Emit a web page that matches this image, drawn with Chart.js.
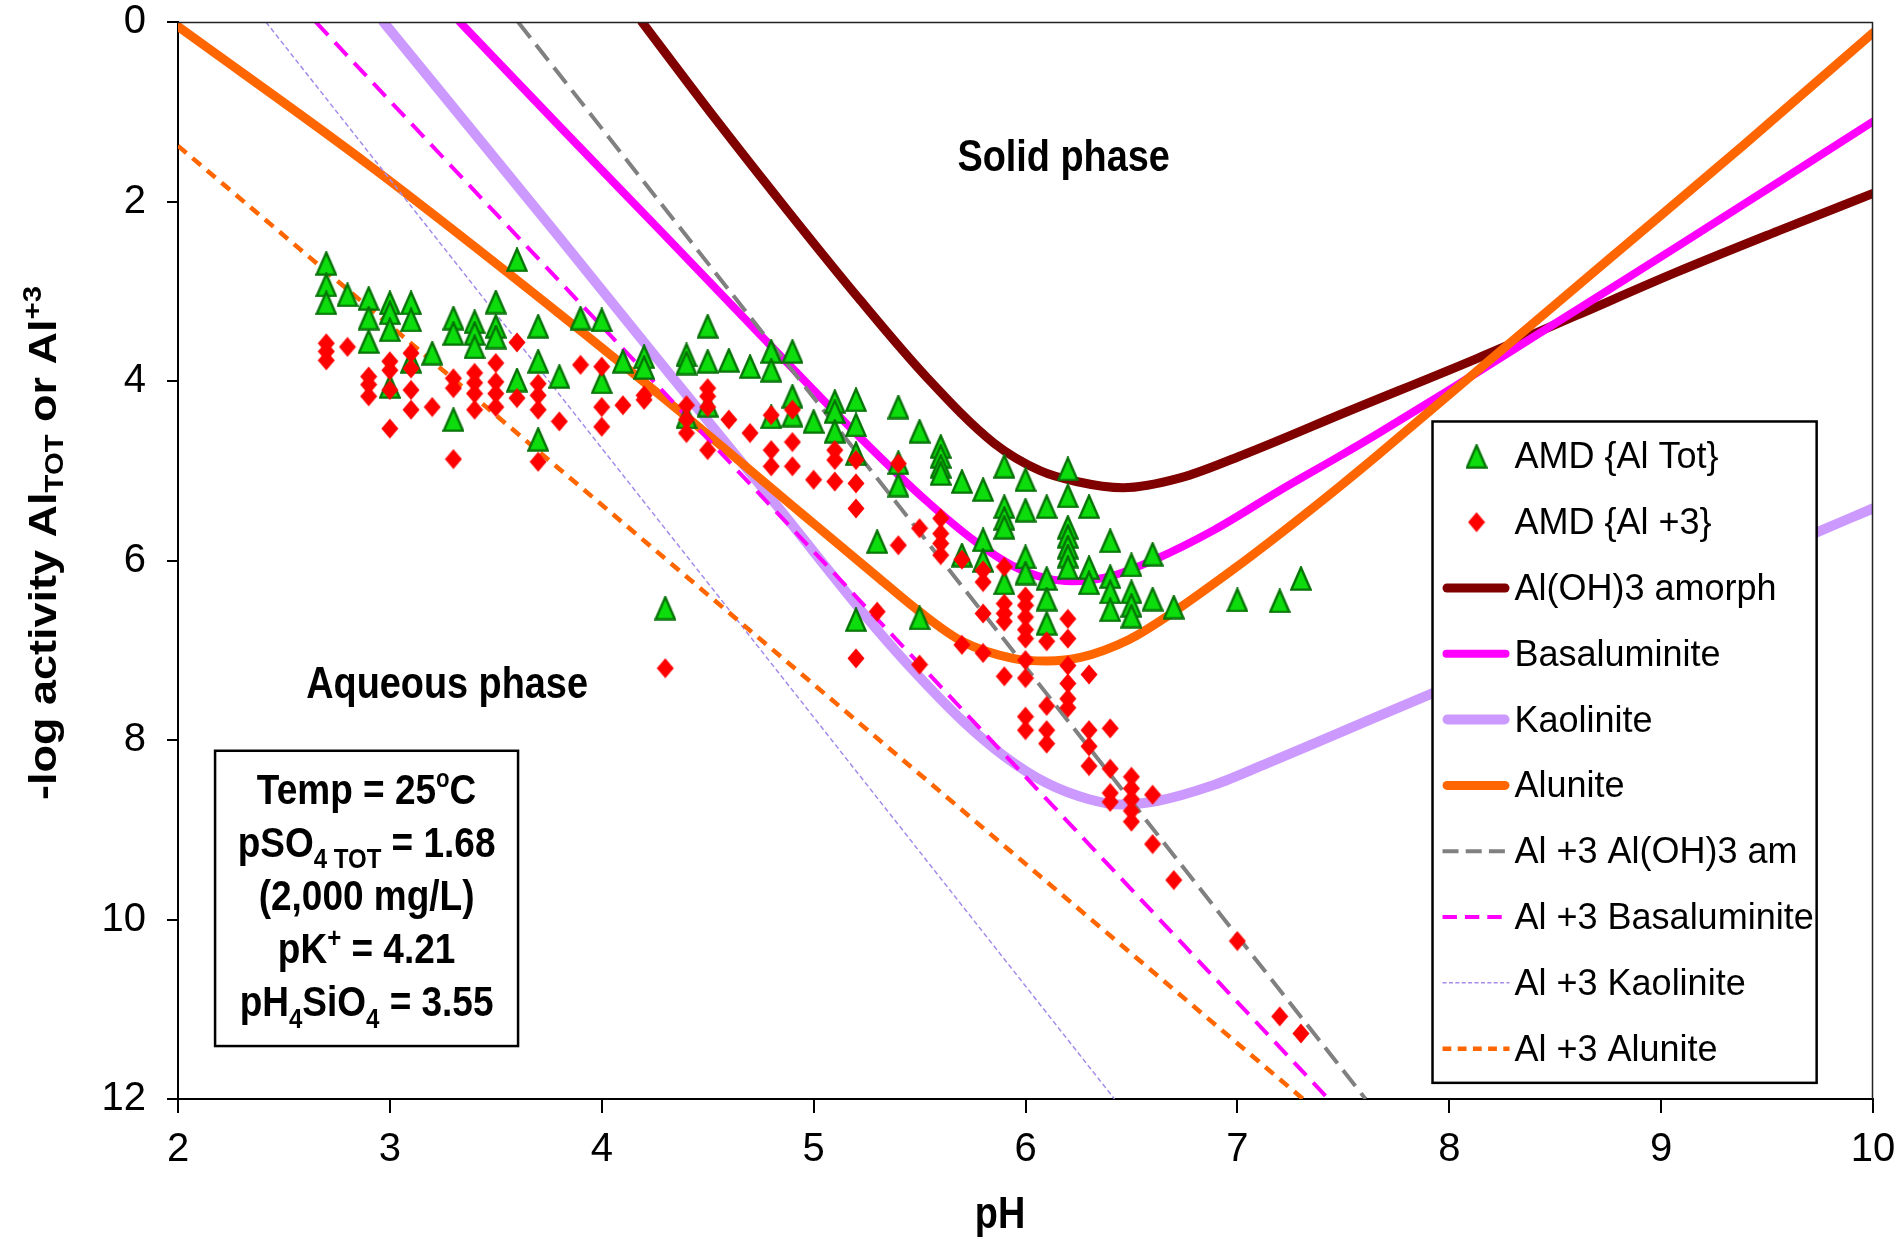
<!DOCTYPE html>
<html>
<head>
<meta charset="utf-8">
<title>Al solubility diagram</title>
<script src="https://cdn.jsdelivr.net/npm/chart.js@4.4.1/dist/chart.umd.min.js"></script>
<style>
  html, body { margin: 0; padding: 0; background: #fff; overflow: hidden; }
  canvas { display: block; }
</style>
</head>
<body>
<canvas id="chart" width="1897" height="1239"></canvas>
<script>
// ---- axis ticks ----
const PH_TICKS = [2, 3, 4, 5, 6, 7, 8, 9, 10];
const LOG_TICKS = [0, 2, 4, 6, 8, 10, 12];

// ---- measured samples: [pH, -log activity] ----
const amdAlTot = [
  [2.7,2.69],[2.7,2.93],[2.7,3.13],[2.8,3.04],[2.9,3.08],[2.9,3.30],[2.9,3.56],
  [3.0,3.13],[3.0,3.24],[3.0,3.43],[3.0,4.06],[3.1,3.13],[3.1,3.32],[3.1,3.78],[3.2,3.69],
  [3.3,3.30],[3.3,3.47],[3.3,4.43],[3.4,3.34],[3.4,3.47],[3.4,3.62],[3.5,3.12],[3.5,3.39],[3.5,3.51],
  [3.6,2.65],[3.6,3.99],[3.7,3.39],[3.7,3.78],[3.7,4.65],[3.8,3.95],[3.9,3.30],
  [4.0,3.32],[4.0,4.01],[4.1,3.78],[4.2,3.73],[4.2,3.85],[4.3,6.53],
  [4.4,3.71],[4.4,3.80],[4.4,4.40],[4.5,3.39],[4.5,3.78],[4.5,4.27],[4.6,3.77],[4.7,3.84],
  [4.8,3.67],[4.8,3.88],[4.8,4.40],[4.9,3.67],[4.9,4.17],[4.9,4.38],[5.0,4.45],
  [5.1,4.23],[5.1,4.34],[5.1,4.56],[5.2,4.21],[5.2,4.49],[5.2,4.81],[5.2,6.66],[5.3,5.79],
  [5.4,4.29],[5.4,4.91],[5.4,5.16],[5.5,4.56],[5.5,6.64],
  [5.6,4.73],[5.6,4.84],[5.6,4.95],[5.6,5.03],[5.7,5.12],[5.7,5.94],
  [5.8,5.21],[5.8,5.77],[5.8,6.00],[5.9,4.95],[5.9,5.40],[5.9,5.53],[5.9,5.63],[5.9,6.25],
  [6.0,5.10],[6.0,5.44],[6.0,5.96],[6.0,6.14],[6.1,5.40],[6.1,6.20],[6.1,6.43],[6.1,6.70],
  [6.2,4.98],[6.2,5.28],[6.2,5.63],[6.2,5.73],[6.2,5.85],[6.2,5.95],[6.2,6.08],
  [6.3,5.40],[6.3,6.08],[6.3,6.25],[6.4,5.78],[6.4,6.18],[6.4,6.35],[6.4,6.55],
  [6.5,6.05],[6.5,6.35],[6.5,6.50],[6.5,6.62],[6.6,5.93],[6.6,6.43],[6.7,6.52],
  [7.0,6.44],[7.2,6.45],[7.3,6.20]
];

const amdAl3 = [
  [2.7,3.58],[2.7,3.67],[2.7,3.77],[2.8,3.62],[2.9,3.95],[2.9,4.04],[2.9,4.17],
  [3.0,3.78],[3.0,3.88],[3.0,4.10],[3.0,4.53],[3.1,3.69],[3.1,3.86],[3.1,4.10],[3.1,4.32],[3.2,4.29],
  [3.3,3.97],[3.3,4.08],[3.3,4.87],[3.4,3.91],[3.4,4.02],[3.4,4.14],[3.4,4.32],
  [3.5,3.80],[3.5,4.01],[3.5,4.14],[3.5,4.29],[3.6,3.57],[3.6,4.19],
  [3.7,4.03],[3.7,4.16],[3.7,4.32],[3.7,4.90],[3.8,4.45],[3.9,3.82],
  [4.0,3.84],[4.0,4.29],[4.0,4.51],[4.1,4.27],[4.2,4.16],[4.2,4.21],[4.3,7.20],
  [4.4,4.27],[4.4,4.43],[4.4,4.58],[4.5,4.08],[4.5,4.17],[4.5,4.29],[4.5,4.77],[4.6,4.43],[4.7,4.58],
  [4.8,4.38],[4.8,4.77],[4.8,4.95],[4.9,4.32],[4.9,4.68],[4.9,4.95],[5.0,5.10],
  [5.1,4.77],[5.1,4.88],[5.1,5.12],[5.2,4.88],[5.2,5.14],[5.2,5.42],[5.2,7.09],[5.3,6.57],
  [5.4,4.92],[5.4,5.83],[5.5,5.64],[5.5,7.16],[5.6,5.53],[5.6,5.70],[5.6,5.81],[5.6,5.94],
  [5.7,5.99],[5.7,6.94],[5.8,6.11],[5.8,6.24],[5.8,6.59],[5.8,7.03],
  [5.9,6.07],[5.9,6.48],[5.9,6.59],[5.9,6.68],[5.9,7.29],
  [6.0,6.40],[6.0,6.50],[6.0,6.63],[6.0,6.77],[6.0,6.87],[6.0,7.11],[6.0,7.31],[6.0,7.74],[6.0,7.89],
  [6.1,6.90],[6.1,7.62],[6.1,7.89],[6.1,8.04],
  [6.2,6.65],[6.2,6.87],[6.2,7.17],[6.2,7.37],[6.2,7.54],[6.2,7.64],
  [6.3,7.27],[6.3,7.89],[6.3,8.07],[6.3,8.29],[6.4,7.87],[6.4,8.32],[6.4,8.59],[6.4,8.69],
  [6.5,8.41],[6.5,8.54],[6.5,8.66],[6.5,8.79],[6.5,8.91],[6.6,8.61],[6.6,9.16],[6.7,9.56],
  [7.0,10.24],[7.2,11.08],[7.3,11.27]
];

// ---- solubility curves: total Al in equilibrium with each solid ----
const amorphCurve = [
  [4.19,0],[4.54,1.09],[4.90,2.17],[5.22,3.10],[5.53,3.95],[5.85,4.69],[6.07,5.00],[6.24,5.12],
  [6.46,5.19],[6.73,5.08],[7.04,4.81],[7.52,4.34],[8.13,3.75],[8.60,3.27],[9.07,2.79],[9.55,2.33],[10.0,1.91]
];
const basalCurve = [
  [3.33,0],[3.80,1.16],[4.27,2.31],[4.75,3.49],[5.22,4.63],[5.53,5.33],[5.77,5.80],[5.94,6.06],
  [6.10,6.20],[6.22,6.23],[6.41,6.17],[6.60,6.00],[6.89,5.66],[7.20,5.22],[7.48,4.84],[7.66,4.59],
  [8.00,4.10],[8.33,3.61],[8.60,3.21],[9.07,2.51],[9.55,1.79],[10.0,1.11]
];
const kaolCurve = [
  [2.97,0],[3.80,2.40],[4.32,3.92],[4.83,5.40],[5.31,6.80],[5.50,7.30],[5.70,7.78],[5.90,8.18],
  [6.10,8.48],[6.30,8.66],[6.45,8.72],[6.62,8.68],[6.89,8.50],[7.14,8.26],[7.48,7.92],
  [7.92,7.48],[8.50,6.91],[9.00,6.42],[9.74,5.68],[10.0,5.42]
];
const alunCurve = [
  [2.00,0.05],[2.91,1.61],[3.80,3.25],[4.40,4.40],[4.94,5.47],[5.31,6.20],[5.50,6.57],[5.70,6.90],
  [5.94,7.09],[6.10,7.12],[6.26,7.08],[6.49,6.88],[6.67,6.62],[6.98,6.10],[7.17,5.76],[7.48,5.18],
  [7.66,4.83],[8.18,3.79],[8.76,2.63],[9.39,1.37],[10.0,0.12]
];

// ---- free Al+3 in equilibrium with each solid ----
const al3Amorph = [[3.605,0],[7.605,12]];
const al3Basal  = [[2.65,0],[7.43,12]];
const al3Kaol   = [[2.415,0],[6.42,12]];
const al3Alun   = [[2.00,1.38],[7.31,12]];

// ---- fonts ----
const SANS = '"Liberation Sans", Arial, Helvetica, sans-serif';

const toXY = list => list.map(([x, y]) => ({ x, y }));

// marker glyphs (slightly taller than wide)
function triangleMarker() {
  const c = document.createElement('canvas');
  c.width = 22; c.height = 25;
  const g = c.getContext('2d');
  g.beginPath();
  g.moveTo(11, 1.6); g.lineTo(20.6, 23.6); g.lineTo(1.4, 23.6); g.closePath();
  g.fillStyle = '#0DDC0D'; g.fill();
  g.lineWidth = 2.4; g.lineJoin = 'miter'; g.strokeStyle = '#067306'; g.stroke();
  return c;
}
function diamondMarker() {
  const c = document.createElement('canvas');
  c.width = 18; c.height = 21;
  const g = c.getContext('2d');
  g.beginPath();
  g.moveTo(9, 0.5); g.lineTo(17.5, 10.5); g.lineTo(9, 20.5); g.lineTo(0.5, 10.5); g.closePath();
  g.fillStyle = '#FF0000'; g.fill();
  return c;
}
const TRI = triangleMarker();
const DIA = diamondMarker();

function marks(label, list, glyph, order) {
  return { label, data: toXY(list), showLine: false, pointStyle: glyph, pointRadius: 10,
           pointHoverRadius: 10, order };
}
function curve(label, list, color, width, dash, order) {
  return { label, data: toXY(list), showLine: true, borderColor: color, backgroundColor: color,
           borderWidth: width, borderDash: dash || [], pointRadius: 0, pointHoverRadius: 0,
           cubicInterpolationMode: 'monotone', clip: 0, fill: false, order,
           borderCapStyle: dash ? 'butt' : 'round', borderJoinStyle: 'round' };
}

const datasets = [
  marks('AMD {Al Tot}', amdAlTot, TRI, 1),
  marks('AMD {Al +3}', amdAl3, DIA, 0),
  curve('Al(OH)3 amorph', amorphCurve, '#800000', 9, null, 9),
  curve('Basaluminite', basalCurve, '#FF00FF', 8, null, 8),
  curve('Kaolinite', kaolCurve, '#CC99FF', 10, null, 7),
  curve('Alunite', alunCurve, '#FF6600', 9, null, 6),
  curve('Al +3 Al(OH)3 am', al3Amorph, '#808080', 4, [20, 9], 5),
  curve('Al +3 Basaluminite', al3Basal, '#FF00FF', 4, [18, 10], 4),
  curve('Al +3 Kaolinite', al3Kaol, '#A58CEB', 1.5, [5, 3], 3),
  curve('Al +3 Alunite', al3Alun, '#FF6600', 4.5, [11, 8], 2)
];

// ---- text with sub/superscript runs, drawn horizontally condensed ----
function drawRuns(ctx, runs, size, weight) {
  let total = 0;
  const widths = runs.map(r => {
    ctx.font = `${weight} ${size * (r.s || 1)}px ${SANS}`;
    const w = ctx.measureText(r.t).width;
    total += w;
    return w;
  });
  let x = -total / 2;
  runs.forEach((r, i) => {
    ctx.font = `${weight} ${size * (r.s || 1)}px ${SANS}`;
    ctx.fillText(r.t, x, -(r.dy || 0) * size);
    x += widths[i];
  });
}
function textAt(ctx, runs, cx, baseY, size, opts = {}) {
  const { sx = 0.86, rot = 0, weight = 'bold' } = opts;
  ctx.save();
  ctx.translate(cx, baseY);
  ctx.scale(sx, 1);
  if (rot) ctx.rotate(rot);
  ctx.fillStyle = '#000';
  ctx.textAlign = 'left';
  ctx.textBaseline = 'alphabetic';
  drawRuns(ctx, runs, size, weight);
  ctx.restore();
}

const decorations = {
  id: 'decorations',
  afterDatasetsDraw(chart) {
    const ctx = chart.ctx;
    const a = chart.chartArea;
    const xs = chart.scales.x, ys = chart.scales.y;

    // plot frame (top and right sides)
    ctx.save();
    ctx.strokeStyle = '#222';
    ctx.lineWidth = 1.5;
    ctx.beginPath();
    ctx.moveTo(a.left, a.top + 0.5);
    ctx.lineTo(a.right - 0.5, a.top + 0.5);
    ctx.lineTo(a.right - 0.5, a.bottom);
    ctx.stroke();
    ctx.restore();

    // region labels
    textAt(ctx, [{ t: 'Solid phase' }], xs.getPixelForValue(6.18), ys.getPixelForValue(1.66), 44);
    textAt(ctx, [{ t: 'Aqueous phase' }], xs.getPixelForValue(3.27), ys.getPixelForValue(7.53), 44);

    // conditions box
    const bx0 = xs.getPixelForValue(2.175), bx1 = xs.getPixelForValue(3.605);
    const by0 = ys.getPixelForValue(8.12), by1 = ys.getPixelForValue(11.41);
    ctx.save();
    ctx.fillStyle = '#fff';
    ctx.fillRect(bx0, by0, bx1 - bx0, by1 - by0);
    ctx.strokeStyle = '#000';
    ctx.lineWidth = 2.5;
    ctx.strokeRect(bx0, by0, bx1 - bx0, by1 - by0);
    ctx.restore();
    const bcx = (bx0 + bx1) / 2;
    const lines = [
      [{ t: 'Temp = 25' }, { t: 'o', s: 0.6, dy: 0.4 }, { t: 'C' }],
      [{ t: 'pSO' }, { t: '4 TOT', s: 0.65, dy: -0.25 }, { t: ' = 1.68' }],
      [{ t: '(2,000 mg/L)' }],
      [{ t: 'pK' }, { t: '+', s: 0.65, dy: 0.36 }, { t: ' = 4.21' }],
      [{ t: 'pH' }, { t: '4', s: 0.65, dy: -0.28 }, { t: 'SiO' }, { t: '4', s: 0.65, dy: -0.28 }, { t: ' = 3.55' }]
    ];
    lines.forEach((runs, i) => textAt(ctx, runs, bcx, by0 + 53 + i * 53, 43));

    // axis titles
    textAt(ctx, [{ t: 'pH' }], 1000, 1228, 44);
    textAt(ctx, [{ t: '-log activity Al' }, { t: 'TOT', s: 0.65, dy: -0.17 }, { t: ' or Al' }, { t: '+3', s: 0.65, dy: 0.38 }],
           56, 543, 45, { rot: -Math.PI / 2 });

    // legend
    const lx0 = xs.getPixelForValue(7.921), lx1 = xs.getPixelForValue(9.734);
    const ly0 = ys.getPixelForValue(4.451), ly1 = ys.getPixelForValue(11.82);
    ctx.save();
    ctx.fillStyle = '#fff';
    ctx.fillRect(lx0, ly0, lx1 - lx0, ly1 - ly0);
    ctx.strokeStyle = '#000';
    ctx.lineWidth = 2.5;
    ctx.strokeRect(lx0, ly0, lx1 - lx0, ly1 - ly0);
    const rowStep = (ly1 - ly0) / 10.05;
    const sampleX0 = lx0 + 10, sampleX1 = lx0 + 77, markX = lx0 + 44, textX = lx0 + 82;
    chart.data.datasets.forEach((ds, i) => {
      const y = ly0 + rowStep * 0.53 + i * rowStep;
      if (ds.showLine === false) {
        const img = ds.pointStyle;
        ctx.drawImage(img, markX - img.width / 2, y - img.height / 2);
      } else {
        ctx.save();
        ctx.strokeStyle = ds.borderColor;
        ctx.lineWidth = ds.borderWidth;
        const dashed = ds.borderDash && ds.borderDash.length;
        ctx.setLineDash(dashed ? ds.borderDash.map(v => v * 0.8) : []);
        ctx.lineCap = dashed ? 'butt' : 'round';
        const inset = dashed ? 0 : ds.borderWidth / 2;
        ctx.beginPath();
        ctx.moveTo(sampleX0 + inset, y);
        ctx.lineTo(sampleX1 - inset, y);
        ctx.stroke();
        ctx.restore();
      }
      ctx.save();
      ctx.translate(textX, y);
      ctx.fillStyle = '#000';
      ctx.font = `36px ${SANS}`;
      ctx.textAlign = 'left';
      ctx.textBaseline = 'middle';
      ctx.fillText(ds.label, 0, 2);
      ctx.restore();
    });
    ctx.restore();
  }
};

new Chart(document.getElementById('chart'), {
  type: 'scatter',
  data: { datasets },
  options: {
    responsive: false,
    devicePixelRatio: 1,
    animation: false,
    events: [],
    layout: { padding: { top: 22, right: 24, bottom: 0, left: 0 } },
    plugins: { legend: { display: false }, tooltip: { enabled: false } },
    scales: {
      x: {
        type: 'linear',
        min: 2, max: 10,
        afterBuildTicks: s => { s.ticks = PH_TICKS.map(v => ({ value: v })); },
        afterFit: s => { s.height = 140; s.paddingLeft = 0; s.paddingRight = 0; },
        ticks: { color: '#000', padding: 17, maxRotation: 0, autoSkip: false,
                 font: { family: SANS, size: 40, lineHeight: 1 } },
        grid: { display: true, drawOnChartArea: false, drawTicks: true, tickLength: 14,
                tickWidth: 2, tickColor: '#000', color: '#000', lineWidth: 2 },
        border: { display: true, color: '#000', width: 2 },
        title: { display: false }
      },
      y: {
        type: 'linear',
        reverse: true,
        min: 0, max: 12,
        afterBuildTicks: s => { s.ticks = LOG_TICKS.map(v => ({ value: v })); },
        afterFit: s => { s.width = 178; s.paddingTop = 0; s.paddingBottom = 0; },
        ticks: { color: '#000', padding: 21, autoSkip: false,
                 font: { family: SANS, size: 40, lineHeight: 1 } },
        grid: { display: true, drawOnChartArea: false, drawTicks: true, tickLength: 11,
                tickWidth: 2, tickColor: '#000', color: '#000', lineWidth: 2 },
        border: { display: true, color: '#000', width: 2 },
        title: { display: false }
      }
    }
  },
  plugins: [decorations]
});
</script>
</body>
</html>
